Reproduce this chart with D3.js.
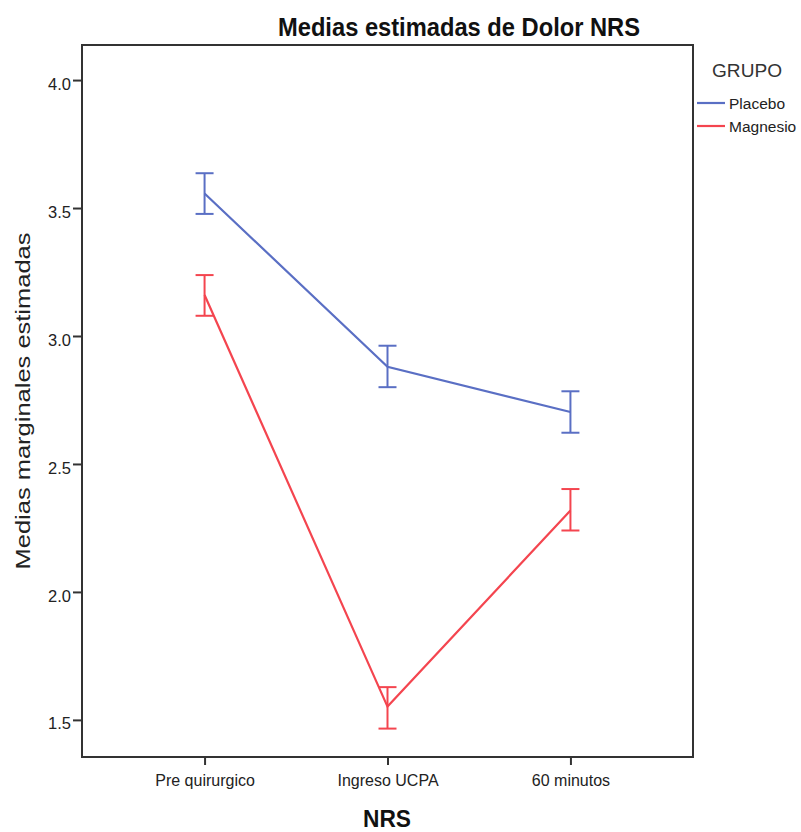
<!DOCTYPE html>
<html>
<head>
<meta charset="utf-8">
<script src="https://cdn.jsdelivr.net/npm/d3@7"></script>
<style>
  body { margin: 0; background: #fff; }
  text { font-family: "Liberation Sans", Arial, sans-serif; }
</style>
</head>
<body>
<svg id="chart" width="801" height="832"></svg>
<script>
const categories = ["Pre quirurgico", "Ingreso UCPA", "60 minutos"];
const groups = ["Placebo", "Magnesio"];
const placeboMean = [3.557, 2.880, 2.703];
const placeboLow  = [3.477, 2.800, 2.622];
const placeboHigh = [3.636, 2.962, 2.784];
const magnesioMean = [3.160, 1.552, 2.318];
const magnesioLow  = [3.079, 1.466, 2.240];
const magnesioHigh = [3.238, 1.628, 2.402];
const yTicks = [1.5, 2.0, 2.5, 3.0, 3.5, 4.0];
const colors = ["#5a6fc4", "#f4454f"];

const series = [
  { name: groups[0], mean: placeboMean, low: placeboLow, high: placeboHigh, color: colors[0] },
  { name: groups[1], mean: magnesioMean, low: magnesioLow, high: magnesioHigh, color: colors[1] }
];

const svg = d3.select("#chart");
const L = 82, R = 693, T = 45, B = 757;

const x = d3.scalePoint().domain(categories).range([L, R]).padding(0.67);
const y = d3.scaleLinear().domain([1.355, 4.137]).range([B, T]);

// frame
svg.append("rect").attr("x", L).attr("y", T).attr("width", R - L).attr("height", B - T)
  .attr("fill", "none").attr("stroke", "#333").attr("stroke-width", 2);

// y axis
const ya = svg.append("g").attr("transform", `translate(${L},0)`)
  .call(d3.axisLeft(y).tickValues(yTicks).tickFormat(d3.format(".1f")).tickSize(9).tickPadding(2));
ya.select(".domain").remove();
ya.selectAll(".tick line").attr("stroke", "#333").attr("stroke-width", 2);
ya.selectAll(".tick text").attr("font-size", 16.5).attr("fill", "#222")
  .attr("font-family", "'Liberation Sans', Arial, sans-serif").attr("dy", "0.55em");

// x axis
const xa = svg.append("g").attr("transform", `translate(0,${B})`)
  .call(d3.axisBottom(x).tickSize(8).tickPadding(10));
xa.select(".domain").remove();
xa.selectAll(".tick line").attr("stroke", "#333").attr("stroke-width", 2);
xa.selectAll(".tick text").attr("font-size", 16).attr("fill", "#222")
  .attr("font-family", "'Liberation Sans', Arial, sans-serif");

// lines
const line = d3.line().x((d, i) => x(categories[i])).y(d => y(d));
series.forEach(s => {
  svg.append("path").datum(s.mean).attr("d", line)
    .attr("fill", "none").attr("stroke", s.color).attr("stroke-width", 2.2);
  const g = svg.append("g").attr("stroke", s.color).attr("stroke-width", 2).attr("fill", "none");
  categories.forEach((c, i) => {
    const cx = x(c);
    g.append("line").attr("x1", cx).attr("x2", cx).attr("y1", y(s.low[i])).attr("y2", y(s.high[i]));
    g.append("line").attr("x1", cx - 9).attr("x2", cx + 9).attr("y1", y(s.low[i])).attr("y2", y(s.low[i]));
    g.append("line").attr("x1", cx - 9).attr("x2", cx + 9).attr("y1", y(s.high[i])).attr("y2", y(s.high[i]));
  });
});

// title
svg.append("text").attr("x", 278).attr("y", 36).attr("font-size", 26).attr("font-weight", "bold")
  .attr("fill", "#111").attr("textLength", 362).attr("lengthAdjust", "spacingAndGlyphs")
  .text("Medias estimadas de Dolor NRS");

// x title
svg.append("text").attr("x", 387).attr("y", 827).attr("text-anchor", "middle")
  .attr("font-size", 24).attr("font-weight", "bold").attr("fill", "#111")
  .attr("textLength", 48).attr("lengthAdjust", "spacingAndGlyphs").text("NRS");

// y title
svg.append("text").attr("transform", "translate(30,401) rotate(-90)").attr("text-anchor", "middle")
  .attr("font-size", 20).attr("fill", "#222")
  .attr("textLength", 337).attr("lengthAdjust", "spacingAndGlyphs")
  .text("Medias marginales estimadas");

// legend
svg.append("text").attr("x", 712).attr("y", 77).attr("font-size", 19).attr("fill", "#333")
  .attr("textLength", 70).attr("lengthAdjust", "spacingAndGlyphs").text("GRUPO");
series.forEach((s, i) => {
  const ly = 103 + i * 23;
  svg.append("line").attr("x1", 697).attr("x2", 725).attr("y1", ly).attr("y2", ly)
    .attr("stroke", s.color).attr("stroke-width", 2.2);
  svg.append("text").attr("x", 729).attr("y", ly + 6).attr("font-size", 15.5).attr("fill", "#222")
    .text(s.name);
});
</script>
</body>
</html>
